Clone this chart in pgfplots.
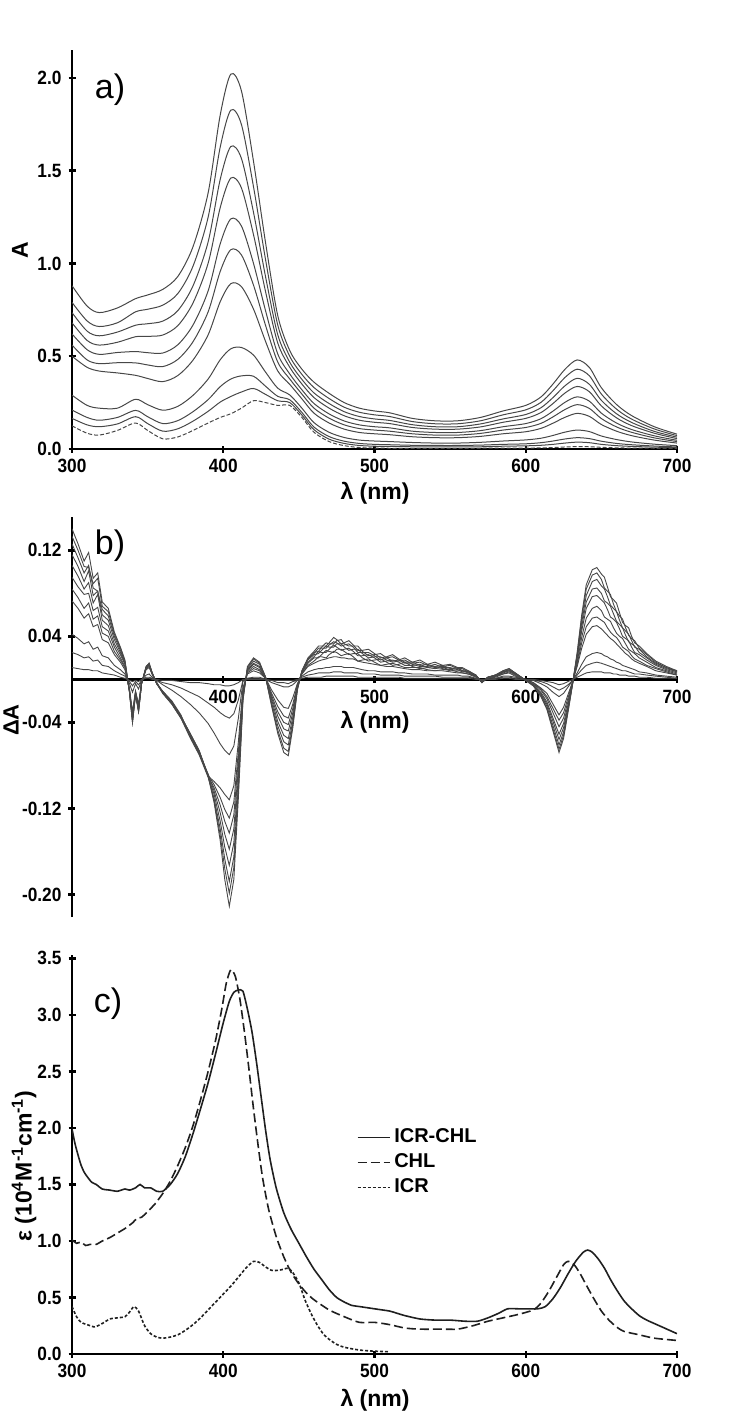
\documentclass[border=0pt]{standalone}
\usepackage{fontspec}
\setmainfont{Liberation Sans}
\newfontfamily\tickfont[FakeStretch=0.9]{Liberation Sans}
\usepackage{pgfplots}
\usepackage{pgfplotstable}
\pgfplotsset{compat=1.18}

% a) titration spectra, ten curves plus the dashed starting spectrum
\pgfplotstableread{
lam c1 c2 c3 c4 c5 c6 c7 c8 c9 c10 d
300 0.88 0.79 0.735 0.68 0.62 0.56 0.50 0.29 0.21 0.165 0.125
310 0.77 0.69 0.635 0.585 0.535 0.48 0.44 0.235 0.17 0.13 0.085
318 0.735 0.66 0.61 0.56 0.51 0.46 0.42 0.22 0.155 0.12 0.075
330 0.76 0.68 0.63 0.575 0.52 0.465 0.41 0.22 0.17 0.135 0.10
342 0.81 0.739 0.667 0.605 0.525 0.464 0.397 0.268 0.208 0.174 0.14
350 0.83 0.753 0.675 0.607 0.519 0.453 0.380 0.239 0.174 0.137 0.10
360 0.86 0.775 0.689 0.614 0.517 0.444 0.363 0.209 0.137 0.096 0.055
370 0.93 0.838 0.746 0.665 0.562 0.483 0.396 0.230 0.153 0.109 0.065
380 1.09 0.985 0.879 0.787 0.668 0.578 0.479 0.289 0.201 0.150 0.10
390 1.38 1.249 1.116 1.001 0.852 0.739 0.615 0.377 0.266 0.203 0.14
398 1.80 1.627 1.453 1.301 1.106 0.957 0.794 0.481 0.336 0.253 0.17
405 2.02 1.826 1.630 1.460 1.240 1.074 0.891 0.540 0.377 0.283 0.19
412 1.93 1.749 1.566 1.407 1.202 1.046 0.875 0.547 0.394 0.307 0.22
420 1.55 1.413 1.275 1.155 1.000 0.883 0.754 0.506 0.392 0.326 0.26
428 1.11 1.019 0.927 0.847 0.744 0.665 0.579 0.414 0.338 0.294 0.25
436 0.72 0.669 0.617 0.572 0.513 0.469 0.421 0.328 0.284 0.260 0.235
444 0.53 0.499 0.467 0.440 0.404 0.377 0.348 0.291 0.265 0.250 0.235
452 0.43 0.402 0.375 0.350 0.319 0.296 0.270 0.220 0.197 0.183 0.17
460 0.36 0.331 0.302 0.277 0.245 0.220 0.193 0.142 0.118 0.104 0.09
470 0.30 0.272 0.245 0.220 0.189 0.166 0.140 0.090 0.067 0.053 0.04
480 0.25 0.225 0.201 0.179 0.151 0.130 0.107 0.062 0.042 0.030 0.018
490 0.22 0.198 0.175 0.155 0.130 0.110 0.089 0.048 0.030 0.019 0.008
500 0.205 0.184 0.162 0.144 0.120 0.102 0.082 0.043 0.025 0.015 0.005
510 0.195 0.175 0.154 0.137 0.114 0.096 0.077 0.040 0.023 0.014 0.004
525 0.165 0.148 0.131 0.116 0.096 0.082 0.066 0.035 0.020 0.012 0.004
540 0.152 0.136 0.120 0.107 0.089 0.075 0.061 0.032 0.019 0.012 0.004
555 0.152 0.136 0.120 0.107 0.089 0.075 0.061 0.032 0.019 0.012 0.004
570 0.170 0.152 0.135 0.119 0.099 0.084 0.068 0.036 0.021 0.012 0.004
585 0.205 0.184 0.162 0.144 0.120 0.102 0.082 0.043 0.025 0.015 0.005
600 0.235 0.211 0.186 0.165 0.137 0.116 0.093 0.049 0.028 0.017 0.005
610 0.28 0.251 0.222 0.196 0.163 0.138 0.111 0.058 0.034 0.020 0.006
618 0.35 0.314 0.277 0.245 0.204 0.173 0.139 0.073 0.043 0.025 0.008
626 0.43 0.386 0.341 0.302 0.252 0.213 0.171 0.091 0.054 0.032 0.011
634 0.48 0.430 0.381 0.337 0.281 0.239 0.192 0.102 0.061 0.037 0.013
642 0.44 0.395 0.349 0.309 0.258 0.219 0.176 0.094 0.056 0.034 0.012
650 0.33 0.296 0.262 0.232 0.193 0.164 0.132 0.070 0.042 0.025 0.009
660 0.24 0.215 0.190 0.168 0.140 0.119 0.096 0.051 0.030 0.018 0.006
670 0.18 0.161 0.143 0.126 0.105 0.090 0.072 0.038 0.023 0.014 0.005
685 0.12 0.108 0.095 0.085 0.071 0.060 0.048 0.026 0.016 0.010 0.004
700 0.08 0.072 0.064 0.056 0.047 0.040 0.032 0.018 0.011 0.007 0.003
}\tabA

% b) difference spectra
\pgfplotstableread{
lam k1 k2 k3 k4 k5 k6 k7 k8 k9 k10 k11
300 0.140 0.133 0.126 0.116 0.106 0.095 0.084 0.073 0.042 0.025 0.011
304 0.126 0.120 0.113 0.105 0.096 0.086 0.076 0.066 0.038 0.023 0.010
308 0.110 0.105 0.099 0.091 0.084 0.079 0.066 0.057 0.033 0.020 0.009
311 0.118 0.104 0.106 0.101 0.090 0.080 0.071 0.061 0.035 0.021 0.009
314 0.094 0.089 0.085 0.078 0.071 0.064 0.056 0.049 0.028 0.017 0.008
317 0.099 0.094 0.082 0.082 0.079 0.067 0.059 0.051 0.030 0.018 0.008
320 0.072 0.068 0.065 0.060 0.055 0.049 0.043 0.037 0.022 0.013 0.006
324 0.066 0.063 0.059 0.055 0.050 0.045 0.040 0.034 0.020 0.012 0.005
328 0.044 0.042 0.040 0.037 0.033 0.030 0.026 0.023 0.013 0.008 0.004
332 0.030 0.029 0.027 0.025 0.023 0.020 0.018 0.016 0.009 0.005 0.002
335 0.018 0.017 0.016 0.015 0.014 0.012 0.011 0.009 0.005 0.003 0.001
338 -0.012 -0.012 -0.011 -0.011 -0.011 -0.010 -0.010 -0.009 -0.004 -0.002 -0.001
340 -0.040 -0.040 -0.038 -0.038 -0.036 -0.034 -0.032 -0.030 -0.012 -0.006 -0.002
342 -0.014 -0.014 -0.013 -0.013 -0.013 -0.012 -0.011 -0.011 -0.004 -0.002 -0.001
344 -0.030 -0.030 -0.029 -0.029 -0.027 -0.026 -0.024 -0.023 -0.009 -0.005 -0.002
346 -0.004 -0.004 -0.004 -0.004 -0.004 -0.003 -0.003 -0.003 -0.001 -0.001 0.000
349 0.012 0.012 0.011 0.011 0.011 0.010 0.010 0.009 0.004 0.002 0.001
351 0.015 0.015 0.014 0.014 0.014 0.013 0.012 0.011 0.005 0.002 0.001
353 0.006 0.006 0.006 0.006 0.005 0.005 0.005 0.005 0.002 0.001 0.000
356 -0.004 -0.004 -0.004 -0.004 -0.004 -0.003 -0.003 -0.003 -0.001 -0.001 0.000
360 -0.012 -0.011 -0.013 -0.012 -0.011 -0.012 -0.013 -0.012 -0.005 -0.003 -0.001
366 -0.022 -0.021 -0.023 -0.022 -0.020 -0.022 -0.023 -0.021 -0.010 -0.005 -0.001
372 -0.035 -0.034 -0.036 -0.035 -0.033 -0.035 -0.036 -0.034 -0.016 -0.008 -0.002
378 -0.052 -0.050 -0.054 -0.051 -0.053 -0.050 -0.052 -0.051 -0.023 -0.012 -0.003
384 -0.068 -0.066 -0.070 -0.067 -0.069 -0.066 -0.068 -0.067 -0.031 -0.016 -0.003
390 -0.090 -0.089 -0.091 -0.090 -0.088 -0.090 -0.089 -0.090 -0.041 -0.022 -0.004
394 -0.115 -0.113 -0.111 -0.107 -0.104 -0.101 -0.098 -0.095 -0.050 -0.026 -0.005
398 -0.150 -0.145 -0.139 -0.132 -0.124 -0.117 -0.110 -0.101 -0.060 -0.031 -0.005
401 -0.186 -0.176 -0.167 -0.156 -0.144 -0.132 -0.121 -0.107 -0.066 -0.034 -0.006
404 -0.211 -0.199 -0.188 -0.173 -0.158 -0.143 -0.129 -0.112 -0.070 -0.036 -0.006
407 -0.186 -0.175 -0.165 -0.152 -0.139 -0.126 -0.114 -0.099 -0.062 -0.032 -0.005
410 -0.110 -0.103 -0.098 -0.090 -0.082 -0.074 -0.067 -0.058 -0.036 -0.019 -0.003
413 -0.020 -0.019 -0.017 -0.015 -0.014 -0.012 -0.010 -0.008 -0.002 -0.001 0.000
416 0.012 0.011 0.010 0.009 0.008 0.007 0.006 0.005 0.001 0.001 0.000
420 0.020 0.019 0.017 0.015 0.014 0.012 0.010 0.008 0.002 0.001 0.000
424 0.016 0.015 0.014 0.012 0.011 0.009 0.008 0.006 0.002 0.001 0.000
428 0.002 0.002 0.002 0.002 0.001 0.001 0.001 0.001 0.000 0.000 0.000
432 -0.025 -0.024 -0.022 -0.019 -0.017 -0.015 -0.013 -0.010 -0.003 -0.001 -0.001
436 -0.050 -0.047 -0.043 -0.039 -0.034 -0.030 -0.025 -0.019 -0.005 -0.003 -0.001
440 -0.068 -0.064 -0.058 -0.052 -0.046 -0.040 -0.034 -0.026 -0.007 -0.003 -0.001
443 -0.071 -0.067 -0.061 -0.055 -0.048 -0.042 -0.036 -0.027 -0.007 -0.004 -0.001
446 -0.045 -0.042 -0.039 -0.035 -0.031 -0.027 -0.023 -0.017 -0.005 -0.002 -0.001
449 -0.010 -0.009 -0.009 -0.008 -0.007 -0.006 -0.005 -0.004 -0.001 -0.001 0.000
452 0.008 0.008 0.007 0.007 0.007 0.006 0.005 0.005 0.003 0.002 0.001
456 0.020 0.019 0.019 0.018 0.016 0.015 0.013 0.012 0.007 0.004 0.002
460 0.026 0.025 0.024 0.023 0.021 0.020 0.017 0.015 0.009 0.005 0.002
463 0.031 0.026 0.029 0.024 0.026 0.020 0.021 0.017 0.010 0.006 0.002
465 0.031 0.030 0.029 0.027 0.025 0.023 0.021 0.018 0.010 0.006 0.002
468 0.031 0.034 0.029 0.031 0.025 0.027 0.020 0.019 0.011 0.006 0.003
470 0.034 0.033 0.032 0.030 0.028 0.026 0.023 0.020 0.011 0.006 0.003
473 0.039 0.033 0.035 0.030 0.032 0.025 0.026 0.021 0.012 0.007 0.003
475 0.037 0.036 0.034 0.033 0.030 0.028 0.025 0.021 0.012 0.007 0.003
478 0.033 0.037 0.031 0.033 0.027 0.028 0.022 0.020 0.012 0.007 0.003
480 0.034 0.033 0.032 0.030 0.028 0.026 0.023 0.020 0.011 0.006 0.003
483 0.036 0.031 0.033 0.027 0.029 0.023 0.024 0.019 0.011 0.006 0.003
486 0.032 0.031 0.030 0.028 0.026 0.024 0.021 0.019 0.011 0.006 0.003
489 0.027 0.031 0.025 0.028 0.022 0.024 0.017 0.017 0.010 0.006 0.002
492 0.027 0.026 0.025 0.024 0.022 0.020 0.018 0.016 0.009 0.005 0.002
496 0.028 0.022 0.025 0.020 0.023 0.017 0.019 0.015 0.008 0.005 0.002
500 0.024 0.023 0.022 0.021 0.020 0.018 0.016 0.014 0.008 0.005 0.002
504 0.020 0.024 0.018 0.021 0.016 0.019 0.013 0.013 0.007 0.004 0.002
508 0.021 0.020 0.020 0.018 0.017 0.016 0.014 0.012 0.007 0.004 0.002
512 0.023 0.017 0.021 0.016 0.018 0.013 0.015 0.012 0.007 0.004 0.002
516 0.019 0.018 0.018 0.017 0.016 0.014 0.013 0.011 0.006 0.004 0.002
520 0.016 0.020 0.015 0.018 0.013 0.016 0.011 0.010 0.006 0.003 0.001
525 0.016 0.016 0.015 0.014 0.013 0.012 0.011 0.009 0.005 0.003 0.001
530 0.018 0.013 0.016 0.012 0.014 0.010 0.011 0.009 0.005 0.003 0.001
535 0.014 0.014 0.013 0.012 0.011 0.011 0.009 0.008 0.005 0.003 0.001
540 0.012 0.016 0.011 0.014 0.010 0.012 0.008 0.008 0.004 0.003 0.001
545 0.013 0.013 0.012 0.011 0.011 0.010 0.009 0.008 0.004 0.002 0.001
550 0.014 0.010 0.013 0.009 0.011 0.008 0.009 0.007 0.004 0.002 0.001
555 0.011 0.011 0.010 0.010 0.009 0.008 0.007 0.006 0.004 0.002 0.001
558 0.008 0.011 0.008 0.010 0.007 0.008 0.006 0.006 0.003 0.002 0.001
562 0.008 0.008 0.007 0.007 0.007 0.006 0.005 0.005 0.003 0.002 0.001
567 0.004 0.004 0.004 0.004 0.003 0.003 0.003 0.002 0.001 0.001 0.000
571 -0.003 -0.003 -0.003 -0.003 -0.002 -0.002 -0.002 -0.002 -0.001 -0.001 0.000
575 0.002 0.002 0.002 0.002 0.002 0.002 0.001 0.001 0.001 0.000 0.000
580 0.004 0.004 0.004 0.004 0.003 0.003 0.003 0.002 0.001 0.001 0.000
585 0.008 0.008 0.007 0.007 0.007 0.006 0.005 0.005 0.003 0.002 0.001
589 0.010 0.010 0.009 0.009 0.008 0.008 0.007 0.006 0.003 0.002 0.001
593 0.006 0.006 0.006 0.005 0.005 0.005 0.004 0.003 0.002 0.001 0.000
597 0.002 0.002 0.002 0.002 0.002 0.002 0.001 0.001 0.001 0.000 0.000
600 -0.001 -0.001 -0.001 -0.001 -0.001 -0.001 -0.001 0.000 0.000 0.000 0.000
605 -0.006 -0.006 -0.005 -0.005 -0.005 -0.004 -0.003 -0.003 -0.001 -0.001 0.000
610 -0.016 -0.015 -0.014 -0.013 -0.012 -0.010 -0.009 -0.008 -0.004 -0.002 -0.001
614 -0.028 -0.027 -0.025 -0.023 -0.021 -0.018 -0.016 -0.013 -0.007 -0.004 -0.002
618 -0.048 -0.046 -0.043 -0.039 -0.036 -0.031 -0.027 -0.023 -0.012 -0.007 -0.003
622 -0.068 -0.065 -0.061 -0.056 -0.051 -0.044 -0.038 -0.033 -0.016 -0.010 -0.005
625 -0.055 -0.052 -0.049 -0.045 -0.041 -0.036 -0.031 -0.026 -0.013 -0.008 -0.004
628 -0.030 -0.029 -0.027 -0.025 -0.023 -0.020 -0.017 -0.014 -0.007 -0.005 -0.002
631 -0.004 -0.004 -0.004 -0.003 -0.003 -0.003 -0.002 -0.002 -0.001 -0.001 0.000
634 0.025 0.024 0.022 0.021 0.019 0.016 0.014 0.012 0.006 0.004 0.002
637 0.060 0.057 0.053 0.049 0.045 0.039 0.034 0.029 0.014 0.009 0.004
640 0.088 0.084 0.078 0.072 0.066 0.057 0.049 0.042 0.021 0.013 0.006
644 0.102 0.097 0.091 0.084 0.077 0.066 0.057 0.049 0.024 0.015 0.007
647 0.104 0.099 0.093 0.085 0.078 0.068 0.058 0.050 0.025 0.016 0.007
650 0.098 0.093 0.087 0.080 0.074 0.064 0.055 0.047 0.024 0.015 0.007
652 0.095 0.085 0.084 0.073 0.071 0.058 0.053 0.044 0.022 0.014 0.006
654 0.086 0.082 0.077 0.071 0.065 0.056 0.048 0.041 0.021 0.013 0.006
656 0.077 0.079 0.069 0.068 0.058 0.054 0.044 0.038 0.019 0.012 0.006
658 0.074 0.070 0.066 0.061 0.056 0.048 0.041 0.036 0.018 0.011 0.005
660 0.071 0.063 0.063 0.054 0.053 0.043 0.039 0.033 0.016 0.010 0.005
662 0.062 0.059 0.055 0.051 0.047 0.040 0.035 0.030 0.015 0.009 0.004
664 0.053 0.056 0.048 0.048 0.040 0.038 0.030 0.027 0.013 0.008 0.004
666 0.050 0.048 0.045 0.041 0.038 0.033 0.028 0.024 0.012 0.008 0.004
668 0.048 0.041 0.042 0.035 0.036 0.028 0.026 0.022 0.011 0.007 0.003
670 0.040 0.038 0.036 0.033 0.030 0.026 0.022 0.019 0.010 0.006 0.003
672 0.034 0.036 0.030 0.031 0.025 0.024 0.019 0.017 0.009 0.005 0.003
675 0.031 0.029 0.028 0.025 0.023 0.020 0.017 0.015 0.007 0.005 0.002
680 0.024 0.023 0.021 0.020 0.018 0.016 0.013 0.012 0.006 0.004 0.002
686 0.017 0.016 0.015 0.014 0.013 0.011 0.010 0.008 0.004 0.003 0.001
693 0.012 0.011 0.011 0.010 0.009 0.008 0.007 0.006 0.003 0.002 0.001
700 0.008 0.008 0.007 0.007 0.006 0.005 0.004 0.004 0.002 0.001 0.001
}\tabB

% c) molar absorptivities
\pgfplotstableread{
lam eps
300 1.99
302 1.86
304 1.76
306 1.67
308 1.61
310 1.57
313 1.52
316 1.50
320 1.46
325 1.45
330 1.44
335 1.46
338 1.45
342 1.47
345 1.50
348 1.47
352 1.47
356 1.44
360 1.44
365 1.50
370 1.60
375 1.75
380 1.95
385 2.17
390 2.40
395 2.66
400 2.93
404 3.12
407 3.20
410 3.22
413 3.21
416 3.05
419 2.85
422 2.58
425 2.28
428 1.98
431 1.72
435 1.47
440 1.25
445 1.10
450 0.98
455 0.86
460 0.75
465 0.66
470 0.57
475 0.50
480 0.46
485 0.43
490 0.42
500 0.40
510 0.38
515 0.36
520 0.34
530 0.31
540 0.30
550 0.30
560 0.29
568 0.29
575 0.32
582 0.36
588 0.40
595 0.40
600 0.40
608 0.40
613 0.42
618 0.49
623 0.59
628 0.71
633 0.82
638 0.90
641 0.92
644 0.90
648 0.84
652 0.76
656 0.66
660 0.57
665 0.47
670 0.40
675 0.34
680 0.30
690 0.24
700 0.18
}\tabCx

\pgfplotstableread{
lam eps
300 1.01
303 0.98
306 0.99
309 0.96
312 0.97
316 0.97
320 1.00
325 1.03
330 1.07
335 1.11
340 1.16
343 1.20
346 1.21
350 1.26
355 1.33
360 1.42
365 1.53
370 1.67
375 1.83
380 2.02
385 2.25
390 2.50
395 2.78
399 3.05
402 3.28
405 3.40
408 3.34
411 3.14
414 2.85
417 2.52
420 2.17
423 1.85
426 1.56
430 1.28
435 1.04
440 0.86
445 0.72
450 0.62
455 0.54
460 0.48
470 0.39
480 0.33
490 0.28
500 0.28
510 0.26
520 0.23
530 0.22
545 0.22
555 0.22
565 0.25
575 0.29
585 0.32
595 0.35
605 0.39
610 0.45
615 0.55
620 0.67
625 0.79
628 0.82
632 0.79
636 0.71
640 0.61
645 0.49
650 0.38
655 0.30
660 0.24
665 0.20
675 0.17
685 0.14
700 0.12
}\tabCh

\pgfplotstableread{
lam eps
300 0.42
303 0.33
306 0.28
310 0.26
315 0.24
320 0.27
325 0.31
330 0.32
335 0.33
338 0.37
341 0.42
344 0.38
348 0.25
352 0.18
356 0.15
360 0.14
365 0.15
370 0.17
375 0.21
380 0.26
385 0.32
390 0.39
395 0.46
400 0.53
405 0.60
410 0.68
415 0.76
420 0.82
424 0.81
428 0.77
432 0.74
436 0.74
440 0.75
443 0.76
446 0.72
450 0.63
454 0.48
458 0.36
462 0.26
466 0.18
470 0.13
475 0.085
480 0.06
490 0.035
500 0.025
510 0.02
}\tabCi

\pgfplotsset{
  panel/.style={
    scale only axis, width=302.5pt, xmin=300, xmax=700,
    tick style={black, line width=1.2pt},
    major tick length=3.5pt, tick align=outside,
    /pgf/number format/assume math mode=true,
    tick label style={font=\tickfont\bfseries\fontsize{9.6}{10}\selectfont},
  },
  noarrow/.style={axis line style={-, line width=1.4pt}},
  spec/.style={black!72, line width=0.5pt, smooth, tension=0.5, no marks},
  diff/.style={black!72, line width=0.45pt, sharp plot, no marks},
}
\tikzset{
  axlab/.style={font=\bfseries\fontsize{11.5}{13}\selectfont},
  plab/.style={font=\fontsize{17}{20}\selectfont},
}

\begin{document}
\begin{tikzpicture}
\path[use as bounding box] (0pt,0pt) rectangle (375pt,-708pt);

% panel a
\begin{axis}[panel, at={(36pt,-224.5pt)}, anchor=south west, height=199.5pt,
  axis lines=left, noarrow, ymin=0, ymax=2.15, xtick={300,400,500,600,700},
  ytick={0,0.5,1,1.5,2},
  yticklabel style={/pgf/number format/.cd, fixed, fixed zerofill, precision=1}]
\addplot[spec] table[x=lam, y=c1] {\tabA};
\addplot[spec] table[x=lam, y=c2] {\tabA};
\addplot[spec] table[x=lam, y=c3] {\tabA};
\addplot[spec] table[x=lam, y=c4] {\tabA};
\addplot[spec] table[x=lam, y=c5] {\tabA};
\addplot[spec] table[x=lam, y=c6] {\tabA};
\addplot[spec] table[x=lam, y=c7] {\tabA};
\addplot[spec] table[x=lam, y=c8] {\tabA};
\addplot[spec] table[x=lam, y=c9] {\tabA};
\addplot[spec] table[x=lam, y=c10] {\tabA};
\addplot[spec, dash pattern=on 2pt off 1pt] table[x=lam, y=d] {\tabA};
\end{axis}

% panel b
\begin{axis}[panel, at={(36pt,-458.5pt)}, anchor=south west, height=200pt,
  axis x line=middle, axis y line=left, noarrow, ymin=-0.221, ymax=0.151,
  xtick={400,500,600,700}, ytick={-0.20,-0.12,-0.04,0.04,0.12},
  yticklabel style={/pgf/number format/.cd, fixed, fixed zerofill, precision=2}]
\addplot[diff] table[x=lam, y=k1] {\tabB};
\addplot[diff] table[x=lam, y=k2] {\tabB};
\addplot[diff] table[x=lam, y=k3] {\tabB};
\addplot[diff] table[x=lam, y=k4] {\tabB};
\addplot[diff] table[x=lam, y=k5] {\tabB};
\addplot[diff] table[x=lam, y=k6] {\tabB};
\addplot[diff] table[x=lam, y=k7] {\tabB};
\addplot[diff] table[x=lam, y=k8] {\tabB};
\addplot[diff] table[x=lam, y=k9] {\tabB};
\addplot[diff] table[x=lam, y=k10] {\tabB};
\addplot[diff] table[x=lam, y=k11] {\tabB};
\end{axis}

% panel c
\begin{axis}[panel, at={(36pt,-677pt)}, anchor=south west, height=199.5pt,
  axis lines=left, noarrow, ymin=0, ymax=3.53, xtick={300,400,500,600,700},
  ytick={0,0.5,1,1.5,2,2.5,3,3.5},
  yticklabel style={/pgf/number format/.cd, fixed, fixed zerofill, precision=1},
  legend style={at={(0.46,0.585)}, anchor=north west, draw=none, fill=none,
    font=\bfseries\fontsize{10}{11.5}\selectfont, row sep=0pt},
  legend cell align=left,
  legend image code/.code={\draw[#1] (0pt,0pt) -- (16pt,0pt);}]
\addplot[black!88, line width=0.8pt, smooth, tension=0.4, no marks] table[x=lam, y=eps] {\tabCx};
\addlegendentry{ICR-CHL}
\addplot[black!88, line width=0.8pt, smooth, tension=0.4, no marks, dash pattern=on 4.5pt off 2pt] table[x=lam, y=eps] {\tabCh};
\addlegendentry{CHL}
\addplot[black!88, line width=0.8pt, smooth, tension=0.4, no marks, dash pattern=on 1.5pt off 1pt] table[x=lam, y=eps] {\tabCi};
\addlegendentry{ICR}
\end{axis}

% labels
\node[axlab] at (187.5pt,-246.5pt) {λ (nm)};
\node[axlab] at (187.5pt,-361pt) {λ (nm)};
\node[axlab] at (187.5pt,-700pt) {λ (nm)};
\node[axlab, rotate=90] at (10pt,-125pt) {A};
\node[axlab, font=\bfseries\fontsize{11}{13}\selectfont, rotate=90] at (5.5pt,-360pt) {ΔA};
\node[axlab, rotate=90] at (12pt,-583pt) {ε (10\textsuperscript{4}M\textsuperscript{-1}cm\textsuperscript{-1})};
\node[plab] at (55pt,-45pt) {a)};
\node[plab] at (55pt,-273pt) {b)};
\node[plab] at (54pt,-502pt) {c)};
\end{tikzpicture}
\end{document}
